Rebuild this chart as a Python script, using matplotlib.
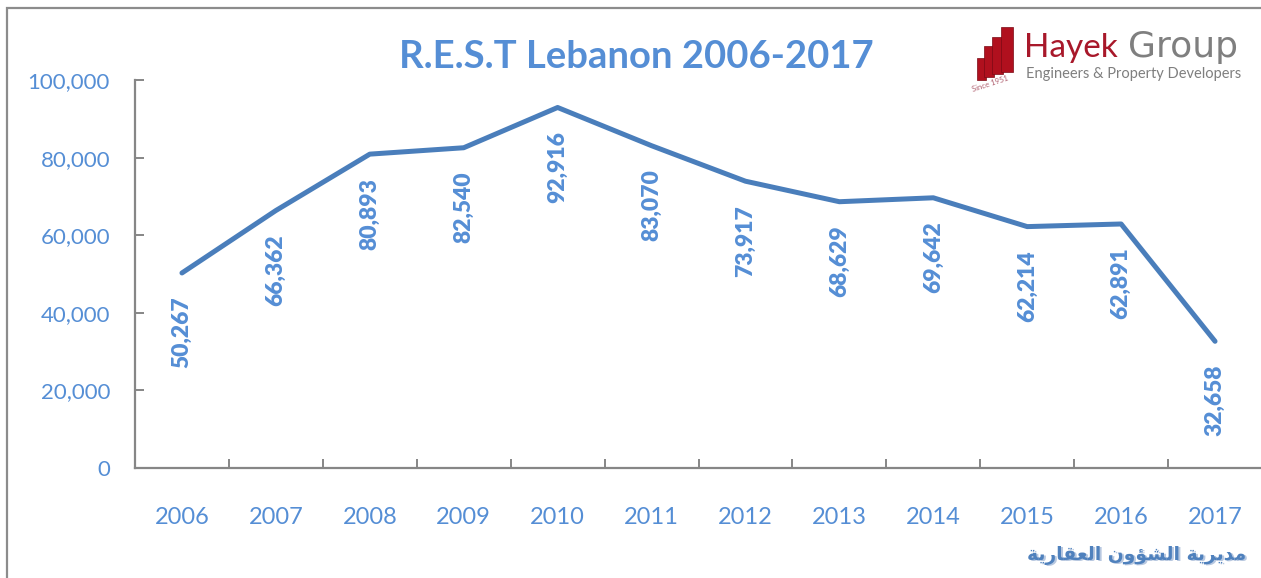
import matplotlib
matplotlib.use("Agg")
import matplotlib.pyplot as plt
from matplotlib.patches import Rectangle
from matplotlib.ticker import FuncFormatter, FixedLocator

years = ["2006", "2007", "2008", "2009", "2010", "2011",
         "2012", "2013", "2014", "2015", "2016", "2017"]
transactions = [50267, 66362, 80893, 82540, 92916, 83070,
                73917, 68629, 69642, 62214, 62891, 32658]
y_ticks = [0, 20000, 40000, 60000, 80000, 100000]

title = "R.E.S.T Lebanon 2006-2017"
# "مديرية الشؤون العقارية" written with presentation forms in visual order,
# since matplotlib does no arabic shaping
source = ("\ufe94\ufef3\ufead\ufe8e\ufed8\ufecc\ufedf\ufe8d "
          "\ufee5\ufeed\ufe86\ufeb8\ufedf\ufe8d "
          "\ufe94\ufef3\ufeae\ufef3\ufeaa\ufee3")

W, H = 1261, 578
blue_txt = "#558ED5"
line_col = "#4A7EBB"
grey = "#868686"

plt.rcParams["font.family"] = ["Lato", "DejaVu Sans"]

fig = plt.figure(figsize=(W / 100, H / 100), dpi=100)


def fx(px):
    return px / W


def fy(py):
    return 1 - py / H


# outer frame of the chart area
fig.patches.append(Rectangle((fx(7), fy(H + 20)), 1.2, fy(8) - fy(H + 20),
                             transform=fig.transFigure, fill=False,
                             edgecolor="#8c8c8c", linewidth=1.6))

ax = fig.add_axes([fx(135), fy(468), fx(1262) - fx(135), fy(80) - fy(468)])
x = list(range(len(years)))
ax.plot(x, transactions, color=line_col, linewidth=3.6,
        solid_capstyle="round", solid_joinstyle="round")

for xi, v in zip(x, transactions):
    ax.annotate(f"{v:,}", (xi, v), xytext=(0, -17), textcoords="offset points",
                rotation=90, ha="center", va="top", fontsize=16.5,
                fontweight="heavy", color=blue_txt)

ax.set_xlim(-0.5, len(years) - 0.5)
ax.set_ylim(0, 100000)
ax.set_yticks(y_ticks)
ax.yaxis.set_major_formatter(FuncFormatter(lambda v, p: f"{int(v):,}"))
ax.set_xticks(x)
ax.set_xticklabels(years)
ax.xaxis.set_minor_locator(FixedLocator([i - 0.5 for i in range(len(years) + 1)]))

for s in ["top", "right"]:
    ax.spines[s].set_visible(False)
for s in ["left", "bottom"]:
    ax.spines[s].set_color(grey)
    ax.spines[s].set_linewidth(1.6)

ax.tick_params(axis="y", direction="in", length=6.5, width=1.4, color=grey,
               labelsize=16, labelcolor=blue_txt, pad=18)
ax.tick_params(axis="x", which="major", length=0, labelsize=17,
               labelcolor=blue_txt, pad=28)
ax.tick_params(axis="x", which="minor", direction="in", length=6.5,
               width=1.4, color=grey)

fig.text(fx(636), fy(68), title, ha="center", va="baseline", fontsize=27.5,
         fontweight="bold", color=blue_txt)

# Arabic source note with a faint shadow
fig.text(fx(1137) + 0.0012, fy(560) - 0.002, source, ha="center",
         va="baseline", fontsize=13.5, fontweight="bold", color="#b8c8e0",
         family="DejaVu Sans")
fig.text(fx(1137), fy(560), source, ha="center", va="baseline", fontsize=13.5,
         fontweight="bold", color="#4F81BD", family="DejaVu Sans")

# logo
bars = [(977, 58, 9, 22), (984, 46, 10, 31), (992, 37, 11, 37), (1001, 27, 12, 45)]
for bx, by, bw, bh in bars:
    fig.patches.append(Rectangle((fx(bx), fy(by + bh)), fx(bw), fy(by) - fy(by + bh),
                                 transform=fig.transFigure, facecolor="#B0101E",
                                 edgecolor="#7a0a14", linewidth=0.5))
fig.text(fx(990), fy(92), "Since 1951", rotation=18, fontsize=5.5,
         color="#b06070", ha="center", va="baseline")
fig.text(fx(1024), fy(57), "Hayek", ha="left", va="baseline", fontsize=24,
         color="#A8182A")
fig.text(fx(1128), fy(57), "Group", ha="left", va="baseline", fontsize=26,
         color="#7f7f7f", family="DejaVu Sans")
fig.text(fx(1026), fy(78), "Engineers & Property Developers", ha="left",
         va="baseline", fontsize=10.5, color="#7f7f7f")

fig.savefig("out.png", dpi=100)
